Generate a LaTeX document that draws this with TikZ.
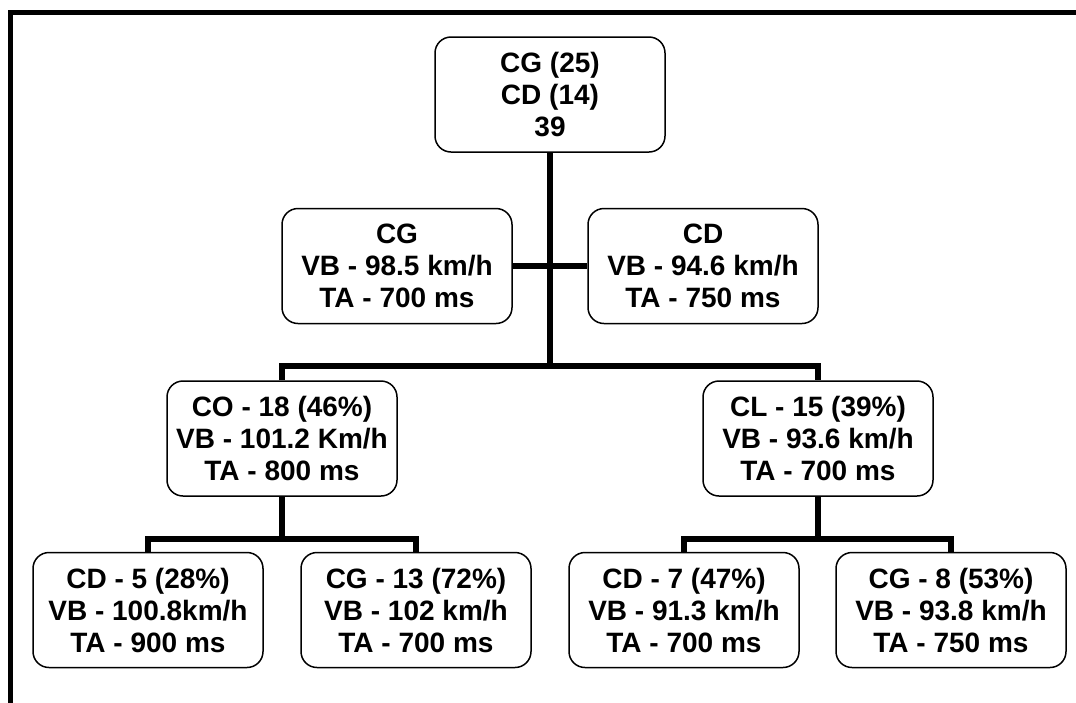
\documentclass[tikz,border=0pt]{standalone}
\usepackage{fontspec}
\setmainfont{Liberation Sans}
\begin{document}
\begin{tikzpicture}[x=1pt,y=-1pt,
  box/.style={draw,line width=1.5pt,rounded corners=16pt,minimum width=230pt,minimum height=115pt,
    align=center,inner sep=0pt,font=\fontsize{28}{32}\selectfont\bfseries},
  conn/.style={line width=6pt}]
\useasboundingbox (0,0) rectangle (1076,702);
\draw[line width=5pt] (10,705) -- (10,12.5) -- (1080,12.5);
\node[box] (top) at (550,94.5) {CG (25)\\CD (14)\\39};
\node[box] (cg) at (397,266) {CG\\VB - 98.5 km/h\\TA - 700 ms};
\node[box] (cd) at (703,266) {CD\\VB - 94.6 km/h\\TA - 750 ms};
\node[box] (co) at (282,438.5) {CO - 18 (46\%)\\VB - 101.2 Km/h\\TA - 800 ms};
\node[box] (cl) at (818,438.5) {CL - 15 (39\%)\\VB - 93.6 km/h\\TA - 700 ms};
\node[box] (cd5) at (148,610) {CD - 5 (28\%)\\VB - 100.8km/h\\TA - 900 ms};
\node[box] (cg13) at (416,610) {CG - 13 (72\%)\\VB - 102 km/h\\TA - 700 ms};
\node[box] (cd7) at (684,610) {CD - 7 (47\%)\\VB - 91.3 km/h\\TA - 700 ms};
\node[box] (cg8) at (951,610) {CG - 8 (53\%)\\VB - 93.8 km/h\\TA - 750 ms};
\coordinate (j1) at (550,366);
\coordinate (j2) at (282,539);
\coordinate (j3) at (818,539);
\draw[conn] (top.south) -- (top.south |- j1);
\draw[conn] (cg.east) -- (cd.west);
\draw[conn] (co.north) |- (cl.north |- j1) -- (cl.north);
\draw[conn] (co.south) -- (j2);
\draw[conn] (cd5.north) |- (cg13.north |- j2) -- (cg13.north);
\draw[conn] (cl.south) -- (j3);
\draw[conn] (cd7.north) |- (cg8.north |- j3) -- (cg8.north);
\end{tikzpicture}
\end{document}
